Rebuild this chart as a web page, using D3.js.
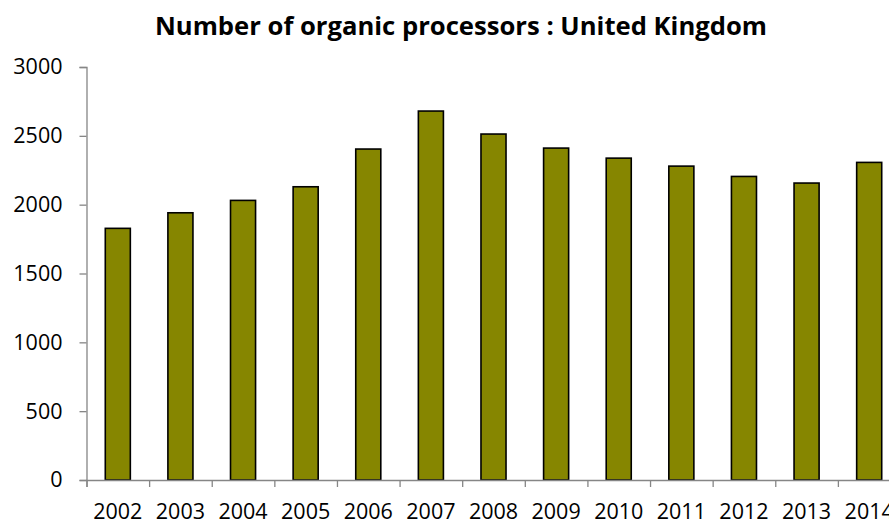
<!DOCTYPE html>
<html>
<head>
<meta charset="utf-8">
<script src="https://cdn.jsdelivr.net/npm/d3@7"></script>
<style>
  body { margin: 0; background: #fff; }
  svg { display: block; }
  text { font-family: "Open Sans", sans-serif; fill: #000; }
</style>
</head>
<body>
<div id="chart"></div>
<script>
// chart data
var years = ["2002", "2003", "2004", "2005", "2006", "2007", "2008", "2009", "2010", "2011", "2012", "2013", "2014"];
var processors = [1828, 1941, 2031, 2130, 2404, 2680, 2513, 2411, 2338, 2280, 2205, 2157, 2307];
var yTicks = [0, 500, 1000, 1500, 2000, 2500, 3000];
var title = "Number of organic processors : United Kingdom";

var svgWidth = 889;
var svgHeight = 522;

var svg = d3.select("#chart")
    .append("svg")
    .attr("width", svgWidth)
    .attr("height", svgHeight);

// plot area (runs past the right edge, like the original)
var plot = { left: 86.5, right: 900.5, top: 67, bottom: 480 };

var x = d3.scaleBand()
    .domain(years)
    .range([plot.left, plot.right])
    .paddingInner(0.6)
    .paddingOuter(0.3);

var xEdge = d3.scaleLinear()
    .domain([0, years.length])
    .range([plot.left, plot.right]);

var y = d3.scaleLinear()
    .domain([0, 3000])
    .range([plot.bottom, plot.top]);

// bars
svg.append("g")
    .selectAll("rect")
    .data(processors)
    .enter()
    .append("rect")
    .attr("x", function (d, i) { return x(years[i]); })
    .attr("y", function (d) { return y(d); })
    .attr("width", x.bandwidth())
    .attr("height", function (d) { return y(0) - y(d); })
    .style("fill", "#868600")
    .style("stroke", "#000")
    .style("stroke-width", 1.6);

// y axis
svg.append("g")
    .attr("transform", "translate(" + plot.left + ",0)")
    .call(d3.axisLeft(y).tickValues(yTicks).tickSize(7).tickPadding(17).tickFormat(d3.format("d")));

// x axis: ticks between categories
svg.append("g")
    .attr("transform", "translate(0," + plot.bottom + ")")
    .call(d3.axisBottom(xEdge).tickValues(d3.range(years.length + 1)).tickSize(7).tickFormat(""));

// x labels
svg.append("g")
    .attr("transform", "translate(0," + plot.bottom + ")")
    .call(d3.axisBottom(x).tickSize(0).tickPadding(0))
    .call(function (g) { g.select(".domain").remove(); })
    .selectAll("text")
    .attr("dy", null)
    .attr("y", 38.5);

svg.selectAll(".domain, .tick line")
    .attr("stroke", "#868686")
    .attr("stroke-width", 1.3);

svg.selectAll(".tick text")
    .style("font-family", "'Open Sans', sans-serif")
    .style("font-size", "21.5px")
    .attr("fill", "#000");

// title
svg.append("text")
    .attr("x", 461)
    .attr("y", 34.5)
    .attr("text-anchor", "middle")
    .attr("textLength", 612)
    .attr("lengthAdjust", "spacingAndGlyphs")
    .style("font-size", "25px")
    .style("font-weight", "bold")
    .text(title);
</script>
</body>
</html>
